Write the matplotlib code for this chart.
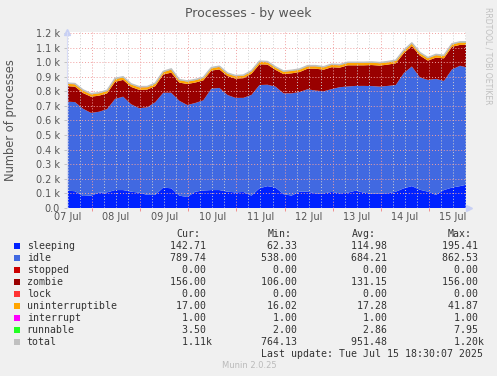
import matplotlib
matplotlib.use('Agg')
import matplotlib.pyplot as plt
from matplotlib.patches import Rectangle
import numpy as np

W, H = 497, 376

# ---- data (4-hour samples starting 07 Jul 11:30, hours since 07 Jul 00:00) ----
start_hour = 11.5
step_hours = 4
sleeping = [119, 115, 82, 85, 105, 107, 123, 123, 112, 105, 90, 90, 140, 135, 85, 75, 112, 120,
            123, 123, 112, 107, 110, 85, 135, 150, 140, 95, 85, 112, 112, 100, 100, 110, 100, 105,
            119, 105, 98, 100, 101, 112, 135, 150, 125, 112, 90, 123, 140, 150, 162]
idle = [610, 611, 598, 567, 555, 571, 625, 640, 599, 579, 600, 635, 650, 655, 650, 631, 608, 618,
        695, 700, 663, 648, 645, 690, 708, 695, 692, 691, 701, 683, 702, 705, 700, 705, 728, 728,
        718, 732, 738, 732, 736, 731, 790, 820, 770, 766, 795, 748, 810, 825, 800]
stopped = [0] * 51
zombie = [106, 106, 108, 111, 110, 108, 117, 115, 119, 126, 122, 110, 125, 138, 125, 144, 140, 137,
          124, 127, 130, 132, 135, 145, 142, 138, 115, 132, 137, 137, 141, 150, 148, 150, 134, 145,
          141, 141, 144, 144, 146, 149, 136, 140, 150, 132, 146, 155, 155, 143, 156]
lock = [0] * 51
uninterruptible = [17, 17, 18, 17, 17, 17, 20, 17, 17, 18, 17, 17, 17, 22, 17, 17, 17, 17, 17, 18,
                   17, 17, 17, 17, 18, 17, 17, 17, 17, 17, 17, 17, 17, 17, 17, 17, 17, 17, 17, 17,
                   17, 17, 17, 18, 17, 17, 17, 17, 17, 17, 17]
interrupt = [1] * 51
runnable = [3, 3, 2.5, 3, 2.5, 3, 3, 3.5, 3, 3, 2.5, 3, 3, 3, 2.5, 3, 3, 2.5, 3, 3, 2.5, 3, 3, 3,
            3, 3, 2.5, 3, 3, 3, 3, 3, 2.5, 3, 3, 3, 3, 3, 3, 3, 3, 3, 3, 3, 3, 3, 4, 3, 3, 3, 3.5]

day_labels = ['07 Jul', '08 Jul', '09 Jul', '10 Jul', '11 Jul', '12 Jul', '13 Jul', '14 Jul', '15 Jul']
y_values = [0, 100, 200, 300, 400, 500, 600, 700, 800, 900, 1000, 1100, 1200]
y_labels = ['0.0', '0.1 k', '0.2 k', '0.3 k', '0.4 k', '0.5 k', '0.6 k', '0.7 k', '0.8 k',
            '0.9 k', '1.0 k', '1.1 k', '1.2 k']

legend_names = ['sleeping', 'idle', 'stopped', 'zombie', 'lock', 'uninterruptible',
                'interrupt', 'runnable', 'total']
legend_colors = ['#0022ff', '#4169e1', '#cc0000', '#990000', '#ff3333', '#ffa500',
                 '#ff00ff', '#22ff22', '#c0c0c0']
cur_vals = ['142.71', '789.74', '0.00', '156.00', '0.00', '17.00', '1.00', '3.50', '1.11k']
min_vals = ['62.33', '538.00', '0.00', '106.00', '0.00', '16.02', '1.00', '2.00', '764.13']
avg_vals = ['114.98', '684.21', '0.00', '131.15', '0.00', '17.28', '1.00', '2.86', '951.48']
max_vals = ['195.41', '862.53', '0.00', '156.00', '0.00', '41.87', '1.00', '7.95', '1.20k']
last_update = 'Last update: Tue Jul 15 18:30:07 2025'

# ---- figure ----
fig = plt.figure(figsize=(W / 100, H / 100), dpi=100)
fig.patch.set_facecolor('#f0f0f0')

ax_left, ax_right, ax_top, ax_bottom = 67, 466, 31.5, 208
ax = fig.add_axes([ax_left / W, 1 - ax_bottom / H, (ax_right - ax_left) / W, (ax_bottom - ax_top) / H])
ax.set_facecolor('white')

hours = start_hour + step_hours * np.arange(len(sleeping))
series = [sleeping, idle, stopped, zombie, lock, uninterruptible, interrupt, runnable]
ax.stackplot(hours, *[np.array(s, dtype=float) for s in series],
             colors=legend_colors[:8], linewidth=0, zorder=1)
total = np.sum([np.array(s, dtype=float) for s in series], axis=0)
ax.plot(hours, total, color='#c0c0c0', lw=1.1, zorder=4)

x0, x1 = 11.5, 210.5
ax.set_xlim(x0, x1)
ax.set_ylim(0, 1210)

# grid (drawn above the areas, like rrdtool)
dot = (0, (1, 2))
h = 6
while h < x1:
    if h > x0:
        if h % 24 == 0:
            ax.axvline(h, color='#f0a0a0', lw=0.7, ls=dot, zorder=3)
        else:
            ax.axvline(h, color='#cfcfcf', lw=0.7, ls=dot, zorder=3)
    h += 6
for v in y_values[1:]:
    ax.axhline(v, color='#f0a0a0', lw=0.7, ls=dot, zorder=3)

for s in ax.spines.values():
    s.set_visible(False)

ax.set_yticks(y_values)
ax.set_yticklabels(y_labels)
noon = [12 + 24 * i for i in range(len(day_labels))]
ax.set_xticks(noon)
ax.set_xticklabels(day_labels)
ax.tick_params(axis='x', length=0, pad=3, labelsize=7, labelcolor='#555555')
ax.tick_params(axis='y', length=2, width=0.6, color='#bbbbbb', pad=3, labelsize=7,
               labelcolor='#555555')
ax.set_xticks([24 * i for i in range(1, 9)], minor=True)
ax.tick_params(axis='x', which='minor', length=2.5, width=0.6, color='#f08080')

# axis arrows
ax.plot([x0], [1210], marker='^', color='#c8d0f4', ms=4, clip_on=False, zorder=5)
ax.plot([x1 + 1.5], [0], marker='>', color='#c8d0f4', ms=4, clip_on=False, zorder=5)
ax.plot([x0, x0], [0, 1210], color='#d8dcf6', lw=0.8, clip_on=False, zorder=5)

# texts
fig.text(248 / W, 1 - 14 / H, 'Processes - by week', ha='center', va='center',
         fontsize=9, color='#555555')
fig.text(10.7 / W, 1 - 120 / H, 'Number of processes', ha='center', va='center',
         rotation=90, fontsize=8.3, color='#555555')
fig.text(488 / W, 1 - 56 / H, 'RRDTOOL / TOBI OETIKER', ha='center', va='center',
         rotation=270, fontsize=5.5, color='#c0c0c0')

mono = dict(family='DejaVu Sans Mono', fontsize=7.1, color='#333333', va='center', ha='left')
cw = 5.95
fig.text(176.7 / W, 1 - 234.3 / H, 'Cur:', **mono)
fig.text(267.7 / W, 1 - 234.3 / H, 'Min:', **mono)
fig.text(351.5 / W, 1 - 234.3 / H, 'Avg:', **mono)
fig.text(447.3 / W, 1 - 234.3 / H, 'Max:', **mono)

col_starts = [170.3, 261.0, 351.3, 441.7]


def field(s):
    s2 = s if s.endswith('k') else s + ' '
    return s2.rjust(7)


for i, name in enumerate(legend_names):
    y = 245.7 + 12 * i
    fig.add_artist(Rectangle((14 / W, 1 - (y + 3) / H), 6 / W, 6 / H,
                             transform=fig.transFigure, facecolor=legend_colors[i],
                             edgecolor='none'))
    fig.text(26.7 / W, 1 - y / H, name, **mono)
    for cs, vals in zip(col_starts, [cur_vals, min_vals, avg_vals, max_vals]):
        fig.text(cs / W, 1 - y / H, field(vals[i]), **mono)

fig.text(261 / W, 1 - 353.7 / H, last_update, **mono)
fig.text(249 / W, 1 - 365 / H, 'Munin 2.0.25', ha='center', va='center',
         fontsize=6, color='#bbbbbb')

fig.savefig('out.png', dpi=100, facecolor=fig.get_facecolor())
